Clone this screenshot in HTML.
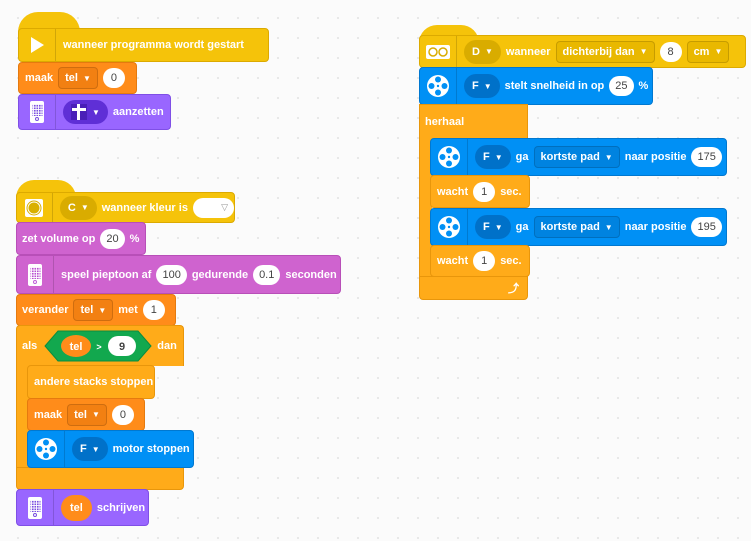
<!DOCTYPE html>
<html><head><meta charset="utf-8"><style>
html,body{margin:0;padding:0;}
body{width:751px;height:541px;position:relative;overflow:hidden;background:#fbfbfb;
background-image:radial-gradient(#e4e4e4 0.8px,transparent 1.2px);background-size:20px 20px;background-position:8px 8px;
font-family:"Liberation Sans",sans-serif;font-weight:bold;font-size:11px;color:#fff;}
.b{position:absolute;border-radius:4px;box-sizing:border-box;display:flex;align-items:center;padding-left:6px;gap:5px;white-space:nowrap;}
.y{background:#f5c30a;border:1px solid #dcaa00;}
.o{background:#ff8c1a;border:1px solid #e57a0f;}
.p{background:#9966ff;border:1px solid #7f4fe6;}
.s{background:#cf63cf;border:1px solid #b84fb8;}
.bl{background:#0090f5;border:1px solid #0078d0;}
.c{background:#ffab19;border:1px solid #e8960b;}
.cap{position:absolute;border-radius:30px 30px 0 0;background:#f5c30a;}
.pill{background:#fff;color:#444;border-radius:11px;height:20px;min-width:22px;padding:0 6px;box-sizing:border-box;display:flex;align-items:center;justify-content:center;font-weight:normal;}
.dd{border:1px solid rgba(0,0,0,0.15);border-radius:4px;height:22px;padding:0 6px;box-sizing:border-box;display:flex;align-items:center;gap:5px;}
.do{background:#f28012;}
.dy{background:#e9b800;}
.dk{border-radius:12px;height:24px;padding:0 8px;display:flex;align-items:center;gap:5px;}
.ico{width:36px;height:100%;display:flex;align-items:center;justify-content:center;border-right:1px solid rgba(0,0,0,0.15);margin-left:-6px;margin-right:2px;}
.tri{font-size:8px;}
</style></head><body>
<svg width="0" height="0" style="position:absolute"><defs>
<pattern id="dp" width="2.5" height="2.5" patternUnits="userSpaceOnUse"><rect width="1.6" height="1.6" fill="#7a4fe0"/></pattern>
<pattern id="ds" width="2.5" height="2.5" patternUnits="userSpaceOnUse"><rect width="1.6" height="1.6" fill="#b84fd0"/></pattern>
</defs></svg>

<!-- Stack 1 -->
<div class="cap" style="left:18px;top:12px;width:62px;height:20px;"></div>
<div class="b y" style="left:18px;top:28px;width:251px;height:34px;">
 <div class="ico"><svg width="16" height="18"><polygon points="2,1 15,9 2,17" fill="#fff"/></svg></div>wanneer programma wordt gestart</div>
<div class="b o" style="left:18px;top:62px;width:119px;height:32px;">maak <div class="dd do">tel <span class="tri">▼</span></div> <div class="pill">0</div></div>
<div class="b p" style="left:18px;top:94px;width:153px;height:36px;">
 <div class="ico"><svg width="16" height="24"><rect x="1" y="1" width="14" height="22" rx="2" fill="#fff"/><rect x="3.5" y="4" width="10" height="12" fill="url(#dp)"/><circle cx="8" cy="19" r="1.5" fill="none" stroke="#7a4fe0"/></svg></div>
 <div class="dk" style="background:#5f2fd6;"><svg width="16" height="16"><rect width="16" height="16" fill="#4a1fb8"/><g fill="#fff"><rect x="6" y="0" width="3" height="16"/><rect x="1" y="4" width="14" height="3"/></g></svg><span class="tri">▼</span></div> aanzetten</div>

<!-- Stack 2 -->
<div class="cap" style="left:16px;top:180px;width:60px;height:18px;"></div>
<div class="b y" style="left:16px;top:192px;width:219px;height:31px;">
 <div class="ico"><svg width="18" height="18"><rect width="18" height="18" rx="2" fill="#fff"/><circle cx="9" cy="9" r="5.5" fill="#d9b000"/><circle cx="9" cy="9" r="7" fill="none" stroke="#d9b000" stroke-width="1"/></svg></div>
 <div class="dk" style="background:#d9ac00;">C <span class="tri">▼</span></div> wanneer kleur is <div class="pill" style="width:42px;justify-content:flex-end;color:#999;font-size:9px;">▽</div></div>
<div class="b s" style="left:16px;top:222px;width:130px;height:33px;padding-left:5px;">zet volume op <div class="pill">20</div> %</div>
<div class="b s" style="left:16px;top:255px;width:325px;height:39px;">
 <div class="ico"><svg width="16" height="24"><rect x="1" y="1" width="14" height="22" rx="2" fill="#fff"/><rect x="3.5" y="4" width="10" height="12" fill="url(#ds)"/><circle cx="8" cy="19" r="1.5" fill="none" stroke="#c060d8"/></svg></div>
 speel pieptoon af <div class="pill">100</div> gedurende <div class="pill">0.1</div> seconden</div>
<div class="b o" style="left:16px;top:294px;width:160px;height:32px;padding-left:5px;">verander <div class="dd do">tel <span class="tri">▼</span></div> met <div class="pill">1</div></div>
<!-- als C block -->
<div class="b c" style="left:16px;top:325px;width:168px;height:41px;border-bottom:none;border-radius:4px 4px 0 0;padding-left:5px;">als
 <svg width="108" height="32" style="margin-left:2px"><polygon points="14,1 94,1 107,16 94,31 14,31 1,16" fill="#12a84e" stroke="#0c8c3e"/><ellipse cx="32" cy="16" rx="15" ry="11" fill="#ff8c1a"/><text x="32" y="20" fill="#fff" font-size="11" text-anchor="middle" font-family="Liberation Sans" font-weight="bold">tel</text><text x="55" y="20" fill="#fff" font-size="9" text-anchor="middle" font-family="Liberation Sans" font-weight="bold">&gt;</text><rect x="64" y="6" width="28" height="20" rx="10" fill="#fff"/><text x="78" y="20" fill="#444" font-size="11" text-anchor="middle" font-family="Liberation Sans">9</text></svg>
 dan</div>
<div style="position:absolute;left:16px;top:364px;width:12px;height:106px;background:#ffab19;border-left:1px solid #e8960b;"></div>
<div class="b c" style="left:16px;top:467px;width:168px;height:23px;border-radius:0 0 4px 4px;"></div>
<div class="b c" style="left:27px;top:365px;width:128px;height:34px;">andere stacks stoppen</div>
<div class="b o" style="left:27px;top:398px;width:118px;height:33px;">maak <div class="dd do">tel <span class="tri">▼</span></div> <div class="pill">0</div></div>
<div class="b bl" style="left:27px;top:430px;width:167px;height:38px;">
 <div class="ico"><svg width="24" height="24"><circle cx="12" cy="12" r="11" fill="#fff"/><g fill="#0090f5"><circle cx="12" cy="5.5" r="3"/><circle cx="12" cy="18.5" r="3"/><circle cx="5.5" cy="12" r="3"/><circle cx="18.5" cy="12" r="3"/><circle cx="12" cy="12" r="1.2"/></g></svg></div>
 <div class="dk" style="background:#0071c9;">F <span class="tri">▼</span></div> motor stoppen</div>
<div class="b p" style="left:16px;top:489px;width:133px;height:37px;">
 <div class="ico"><svg width="16" height="24"><rect x="1" y="1" width="14" height="22" rx="2" fill="#fff"/><rect x="3.5" y="4" width="10" height="12" fill="url(#dp)"/><circle cx="8" cy="19" r="1.5" fill="none" stroke="#7a4fe0"/></svg></div>
 <div class="dk" style="background:#ff8c1a;height:26px;border-radius:13px;padding:0 9px;">tel</div> schrijven</div>

<!-- Stack 3 -->
<div class="cap" style="left:419px;top:25px;width:60px;height:18px;"></div>
<div class="b y" style="left:419px;top:35px;width:327px;height:33px;">
 <div class="ico"><svg width="24" height="14"><rect width="24" height="14" rx="2" fill="#fff"/><circle cx="7" cy="7" r="4" fill="none" stroke="#d9ac00" stroke-width="1.5"/><circle cx="17" cy="7" r="4" fill="none" stroke="#d9ac00" stroke-width="1.5"/></svg></div>
 <div class="dk" style="background:#d9ac00;">D <span class="tri">▼</span></div> wanneer <div class="dd dy">dichterbij dan <span class="tri">▼</span></div> <div class="pill">8</div> <div class="dd dy">cm <span class="tri">▼</span></div></div>
<div class="b bl" style="left:419px;top:67px;width:234px;height:38px;">
 <div class="ico"><svg width="24" height="24"><circle cx="12" cy="12" r="11" fill="#fff"/><g fill="#0090f5"><circle cx="12" cy="5.5" r="3"/><circle cx="12" cy="18.5" r="3"/><circle cx="5.5" cy="12" r="3"/><circle cx="18.5" cy="12" r="3"/><circle cx="12" cy="12" r="1.2"/></g></svg></div>
 <div class="dk" style="background:#0071c9;">F <span class="tri">▼</span></div> stelt snelheid in op <div class="pill">25</div> %</div>
<div class="b c" style="left:419px;top:104px;width:109px;height:35px;border-bottom:none;border-radius:0;padding-left:5px;">herhaal</div>
<div style="position:absolute;left:419px;top:138px;width:12px;height:140px;background:#ffab19;border-left:1px solid #e8960b;"></div>
<div class="b c" style="left:419px;top:276px;width:109px;height:24px;border-radius:0 0 4px 4px;justify-content:flex-end;padding-right:8px;">⤴</div>
<div class="b bl" style="left:430px;top:138px;width:297px;height:38px;">
 <div class="ico"><svg width="24" height="24"><circle cx="12" cy="12" r="11" fill="#fff"/><g fill="#0090f5"><circle cx="12" cy="5.5" r="3"/><circle cx="12" cy="18.5" r="3"/><circle cx="5.5" cy="12" r="3"/><circle cx="18.5" cy="12" r="3"/><circle cx="12" cy="12" r="1.2"/></g></svg></div>
 <div class="dk" style="background:#0071c9;">F <span class="tri">▼</span></div> ga <div class="dd" style="background:#0083e0;">kortste pad <span class="tri">▼</span></div> naar positie <div class="pill">175</div></div>
<div class="b c" style="left:430px;top:175px;width:100px;height:33px;">wacht <div class="pill">1</div> sec.</div>
<div class="b bl" style="left:430px;top:208px;width:297px;height:38px;">
 <div class="ico"><svg width="24" height="24"><circle cx="12" cy="12" r="11" fill="#fff"/><g fill="#0090f5"><circle cx="12" cy="5.5" r="3"/><circle cx="12" cy="18.5" r="3"/><circle cx="5.5" cy="12" r="3"/><circle cx="18.5" cy="12" r="3"/><circle cx="12" cy="12" r="1.2"/></g></svg></div>
 <div class="dk" style="background:#0071c9;">F <span class="tri">▼</span></div> ga <div class="dd" style="background:#0083e0;">kortste pad <span class="tri">▼</span></div> naar positie <div class="pill">195</div></div>
<div class="b c" style="left:430px;top:245px;width:100px;height:32px;">wacht <div class="pill">1</div> sec.</div>

</body></html>
